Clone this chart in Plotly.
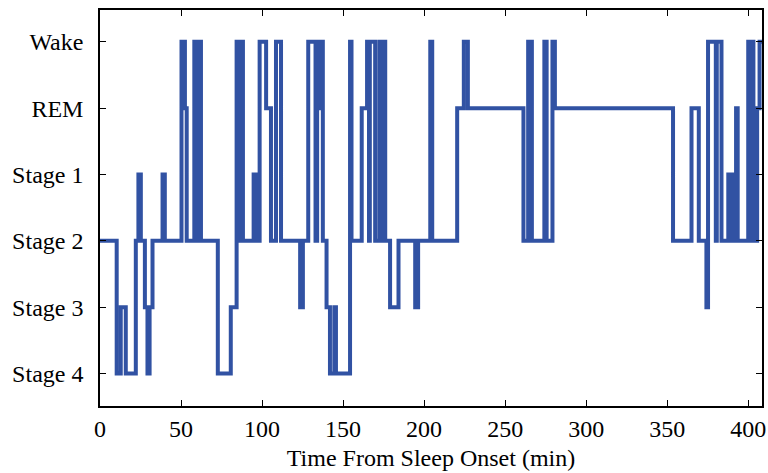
import plotly.graph_objects as go

stage_labels = ["Stage 4", "Stage 3", "Stage 2", "Stage 1", "REM", "Wake"]

# start time (min) of each hypnogram segment and its stage
seg_start = [0, 10.3, 12.8, 15.9, 22.1, 23.7, 25.2, 27.7, 29.3, 30.6, 32.4, 38.6, 40.0,
             50.3, 52.4, 53.5, 58.2, 59.6, 60.0, 62.3, 72.7, 80.7, 84.3, 85.3, 85.8,
             86.6, 87.0, 88.2, 94.8, 97.0, 98.5, 102.5, 105.5, 108.6, 111.7, 123.5,
             125.2, 128.5, 133.0, 134.0, 134.5, 135.5, 137.5, 139.8, 141.9, 144.6,
             145.6, 154.3, 155.2, 161.5, 164.8, 166.0, 166.5, 169.8, 172.4, 173.5,
             174.0, 176.0, 179.0, 184.2, 194.5, 196.3, 203.8, 205.0, 220.4, 224.5,
             227.0, 261.3, 264.2, 266.5, 274.2, 275.6, 279.2, 280.7, 353.6, 365.0,
             369.5, 374.2, 375.2, 380.0, 380.6, 383.5, 387.7, 388.8, 389.3, 390.4,
             392.5, 393.5, 400.0, 401.3, 401.8, 403.2, 405.5, 407.0, 408.5]
seg_stage = ["Stage 2", "Stage 4", "Stage 3", "Stage 4", "Stage 2", "Stage 1", "Stage 2",
             "Stage 3", "Stage 4", "Stage 3", "Stage 2", "Stage 1", "Stage 2",
             "Wake", "REM", "Stage 2", "Wake", "Stage 2", "Wake", "Stage 2", "Stage 4",
             "Stage 3", "Wake", "Stage 2", "Wake", "Stage 2", "Wake", "Stage 2",
             "Stage 1", "Stage 2", "Wake", "REM", "Stage 2", "Wake", "Stage 2",
             "Stage 3", "Stage 2", "Wake", "Stage 2", "Wake", "REM", "Wake", "Stage 2",
             "Stage 3", "Stage 4", "Stage 3", "Stage 4", "Wake", "Stage 2", "REM",
             "Wake", "Stage 2", "Wake", "Stage 2", "Wake", "Stage 2", "Wake", "Stage 2",
             "Stage 3", "Stage 2", "Stage 3", "Stage 2", "Wake", "Stage 2", "REM",
             "Wake", "REM", "Stage 2", "Wake", "Stage 2", "Wake", "Stage 2", "Wake",
             "REM", "Stage 2", "REM", "Stage 2", "Stage 3", "Wake", "Stage 2", "Wake",
             "Stage 2", "Stage 1", "Stage 2", "Stage 1", "Stage 2", "REM", "Stage 2",
             "Wake", "Stage 2", "Wake", "Stage 2", "REM", "Wake", "Wake"]

x_ticks = [0, 50, 100, 150, 200, 250, 300, 350, 400]

fig = go.Figure(go.Scatter(
    x=seg_start, y=seg_stage, mode="lines", line_shape="hv",
    line=dict(color="#3152a3", width=4), showlegend=False))

font = dict(family="Liberation Serif, Times New Roman, serif", size=24, color="black")
fig.update_layout(
    width=768, height=473, plot_bgcolor="white", paper_bgcolor="white",
    margin=dict(l=100, r=6, t=10, b=67), font=font,
    xaxis=dict(range=[0, 408.5], tickvals=x_ticks, showline=True, linecolor="black",
               linewidth=1.5, mirror="ticks", ticks="inside", ticklen=6, tickcolor="black",
               showgrid=False, zeroline=False, automargin=False,
               title=dict(text="Time From Sleep Onset (min)", font=font, standoff=9)),
    yaxis=dict(type="category", categoryorder="array", categoryarray=stage_labels,
               range=[-0.49, 5.48], showline=True, linecolor="black", linewidth=1.5,
               mirror="ticks", ticks="inside", ticklen=6, tickcolor="black",
               ticklabelstandoff=10,
               showgrid=False, zeroline=False, automargin=False),
)
fig.write_html("out.html", config={"displayModeBar": False},
               post_script="document.body.style.margin='0';document.body.style.overflow='hidden';")
